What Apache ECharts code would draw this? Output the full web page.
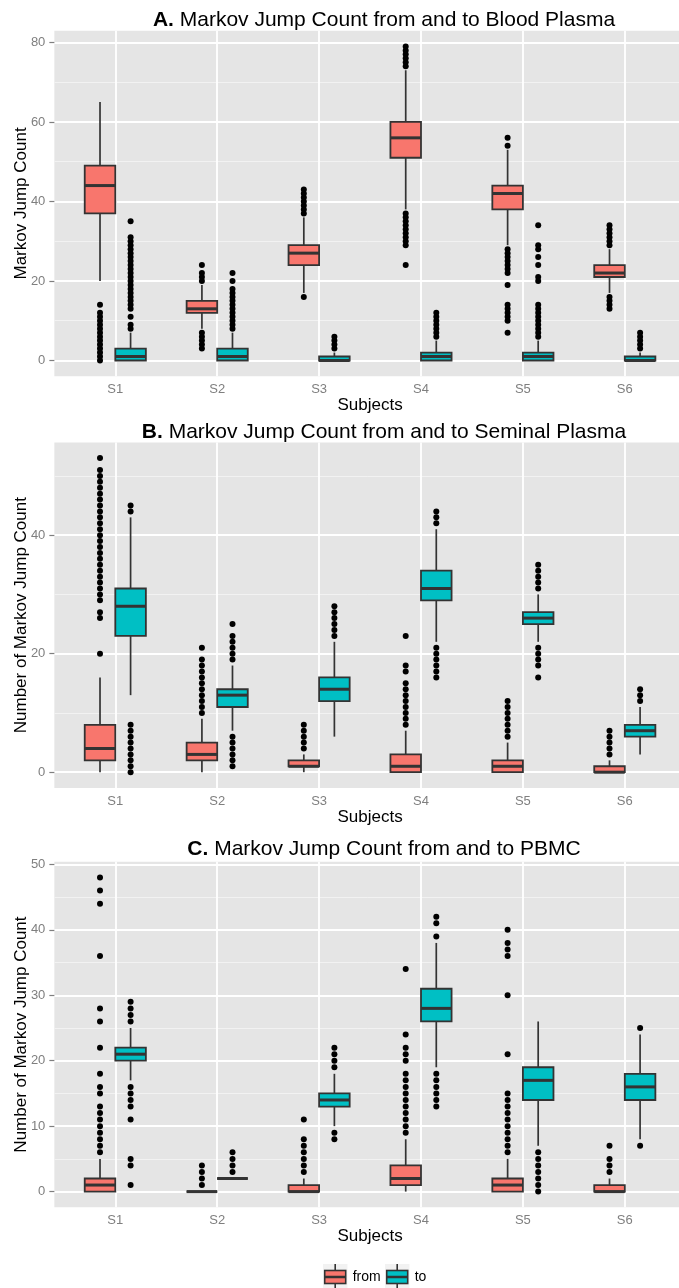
<!DOCTYPE html>
<html>
<head>
<meta charset="utf-8">
<title>Markov Jump Count</title>
<script src="https://cdn.jsdelivr.net/npm/echarts@6/dist/echarts.min.js"></script>
<style>
  html, body { margin: 0; padding: 0; background: #fff; }
  #main { width: 679px; height: 1288px; }
</style>
</head>
<body>
<div id="main"></div>
<script>
  var subjects = ['S1', 'S2', 'S3', 'S4', 'S5', 'S6'];

  // box stats per subject: [lower whisker, Q1, median, Q3, upper whisker]
  var bloodFromBox = [[20, 37, 44, 49, 65], [8, 12, 13, 15, 19], [17, 24, 27, 29, 36],
                      [38, 51, 56, 60, 73], [29, 38, 42, 44, 53], [17, 21, 22, 24, 28]];
  var bloodToBox = [[0, 0, 1, 3, 7], [0, 0, 1, 3, 7], [0, 0, 0, 1, 2],
                    [0, 0, 1, 2, 5], [0, 0, 1, 2, 5], [0, 0, 0, 1, 2]];
  var seminalFromBox = [[0, 2, 4, 8, 16], [0, 2, 3, 5, 9], [0, 1, 1, 2, 3],
                        [0, 0, 1, 3, 7], [0, 0, 1, 2, 5], [0, 0, 0, 1, 2]];
  var seminalToBox = [[13, 23, 28, 31, 43], [7, 11, 13, 14, 18], [6, 12, 14, 16, 22],
                      [22, 29, 31, 34, 41], [22, 25, 26, 27, 30], [3, 6, 7, 8, 11]];
  var pbmcFromBox = [[0, 0, 1, 2, 5], [0, 0, 0, 0, 0], [0, 0, 0, 1, 2],
                     [0, 1, 2, 4, 8], [0, 0, 1, 2, 5], [0, 0, 0, 1, 2]];
  var pbmcToBox = [[17, 20, 21, 22, 25], [2, 2, 2, 2, 2], [10, 13, 14, 15, 18],
                   [19, 26, 28, 31, 38], [7, 14, 17, 19, 26], [8, 14, 16, 18, 24]];

  // outliers per subject
  var bloodFromOut = [
    [0, 1, 2, 3, 4, 5, 6, 7, 8, 9, 10, 11, 12, 14],
    [3, 4, 5, 6, 7, 20, 21, 22, 24],
    [16, 37, 38, 39, 40, 41, 42, 43],
    [24, 29, 30, 31, 32, 33, 34, 35, 36, 37, 74, 75, 76, 77, 78, 79],
    [7, 10, 11, 12, 13, 14, 19, 22, 23, 24, 25, 26, 27, 28, 54, 56],
    [13, 14, 15, 16, 29, 30, 31, 32, 33, 34]
  ];
  var bloodToOut = [
    [8, 9, 11, 13, 14, 15, 16, 17, 18, 19, 20, 21, 22, 23, 24, 25, 26, 27, 28, 29, 30, 31, 35],
    [8, 9, 10, 11, 12, 13, 14, 15, 16, 17, 18, 20, 22],
    [3, 4, 5, 6],
    [6, 7, 8, 9, 10, 11, 12],
    [6, 7, 8, 9, 10, 11, 12, 13, 14, 20, 21, 24, 26, 28, 29, 34],
    [3, 4, 5, 6, 7]
  ];
  var seminalFromOut = [
    [20, 26, 27, 29, 30, 31, 32, 33, 34, 35, 36, 37, 38, 39, 40, 41, 42, 43, 44, 45, 46, 47, 48, 49, 50, 51, 53],
    [10, 11, 12, 13, 14, 15, 16, 17, 18, 19, 21],
    [4, 5, 6, 7, 8],
    [8, 9, 10, 11, 12, 13, 14, 15, 17, 18, 23],
    [6, 7, 8, 9, 10, 11, 12],
    [3, 4, 5, 6, 7]
  ];
  var seminalToOut = [
    [0, 1, 2, 3, 4, 5, 6, 7, 8, 44, 45],
    [1, 2, 3, 4, 5, 6, 19, 20, 21, 22, 23, 25],
    [23, 24, 25, 26, 27, 28],
    [16, 17, 18, 19, 20, 21, 42, 43, 44],
    [16, 18, 19, 20, 21, 31, 32, 33, 34, 35],
    [12, 13, 14]
  ];
  var pbmcFromOut = [
    [6, 7, 8, 9, 10, 11, 12, 13, 15, 16, 18, 22, 26, 28, 36, 44, 46, 48],
    [1, 2, 3, 4],
    [3, 4, 5, 6, 7, 8, 11],
    [9, 10, 11, 12, 13, 14, 15, 16, 17, 18, 20, 21, 22, 24, 34],
    [6, 7, 8, 9, 10, 11, 12, 13, 14, 15, 21, 30, 36, 37, 38, 40],
    [3, 4, 5, 7]
  ];
  var pbmcToOut = [
    [1, 4, 5, 11, 13, 14, 15, 16, 26, 27, 28, 29],
    [3, 4, 5, 6],
    [8, 9, 19, 20, 21, 22],
    [13, 14, 15, 16, 17, 18, 39, 41, 42],
    [0, 1, 2, 3, 4, 5, 6],
    [7, 25]
  ];

  // y ranges (ggplot 5% expansion) and tick labels
  var bloodRange = [-3.95, 82.95];
  var seminalRange = [-2.65, 55.65];
  var pbmcRange = [-2.4, 50.4];
  var bloodTicks = [0, 20, 40, 60, 80];
  var seminalTicks = [0, 20, 40];
  var pbmcTicks = [0, 10, 20, 30, 40, 50];

  var fromColor = '#F8766D';
  var toColor = '#00BFC4';
  var ink = '#333333';
  var axisGrey = '#7F7F7F';
  var font = 'Liberation Sans, Arial, sans-serif';

  var panels = [
    { tag: 'A.', title: ' Markov Jump Count from and to Blood Plasma', yName: 'Markov Jump Count',
      range: bloodRange, ticks: bloodTicks, splitNumber: 5, top: 30.7, titleY: 20.3,
      fromBox: bloodFromBox, toBox: bloodToBox, fromOut: bloodFromOut, toOut: bloodToOut },
    { tag: 'B.', title: ' Markov Jump Count from and to Seminal Plasma', yName: 'Number of Markov Jump Count',
      range: seminalRange, ticks: seminalTicks, splitNumber: 3, top: 442.4, titleY: 432.6,
      fromBox: seminalFromBox, toBox: seminalToBox, fromOut: seminalFromOut, toOut: seminalToOut },
    { tag: 'C.', title: ' Markov Jump Count from and to PBMC', yName: 'Number of Markov Jump Count',
      range: pbmcRange, ticks: pbmcTicks, splitNumber: 5, top: 861.8, titleY: 849.6,
      fromBox: pbmcFromBox, toBox: pbmcToBox, fromOut: pbmcFromOut, toOut: pbmcToOut }
  ];
  var panelHeight = 345.5;

  function boxRenderer(side, fill) {
    return function (params, api) {
      var band = api.size([1, 0])[0];
      var w = band * 0.3;
      var cat = api.value(0);
      var cx = api.coord([cat, 0])[0] + side * w / 2;
      function py(dim) { return api.coord([cat, api.value(dim)])[1]; }
      var lo = py(1), q1 = py(2), md = py(3), q3 = py(4), hi = py(5);
      return {
        type: 'group',
        children: [
          { type: 'line', shape: { x1: cx, y1: hi, x2: cx, y2: q3 }, style: { stroke: ink, lineWidth: 1.7 } },
          { type: 'line', shape: { x1: cx, y1: q1, x2: cx, y2: lo }, style: { stroke: ink, lineWidth: 1.7 } },
          { type: 'rect', shape: { x: cx - w / 2, y: q3, width: w, height: q1 - q3 },
            style: { fill: fill, stroke: ink, lineWidth: 1.8 } },
          { type: 'line', shape: { x1: cx - w / 2, y1: md, x2: cx + w / 2, y2: md }, style: { stroke: ink, lineWidth: 3 } }
        ]
      };
    };
  }

  function outlierPoints(lists) {
    var pts = [];
    lists.forEach(function (vals, i) {
      vals.forEach(function (v) { pts.push([i, v]); });
    });
    return pts;
  }

  function keyIcon(fill) {
    var svg = '<svg xmlns="http://www.w3.org/2000/svg" width="25" height="27" viewBox="0 0 25 27">' +
      '<rect width="25" height="27" fill="#F2F2F2"/>' +
      '<line x1="12.5" y1="0" x2="12.5" y2="27" stroke="#333" stroke-width="1.6"/>' +
      '<rect x="2" y="7" width="21" height="13" fill="' + fill + '" stroke="#333" stroke-width="1.6"/>' +
      '<line x1="2" y1="13.5" x2="23" y2="13.5" stroke="#333" stroke-width="2.6"/></svg>';
    return 'image://data:image/svg+xml;charset=utf-8,' + encodeURIComponent(svg);
  }

  var grids = [], xAxes = [], yAxes = [], series = [], titles = [];

  panels.forEach(function (p, k) {
    var bg = 2 * k, dg = 2 * k + 1;
    // full panel (grey background, y axis, horizontal grid lines)
    grids.push({ left: 54.35, right: -7, top: p.top, height: panelHeight, show: true,
                 backgroundColor: '#E5E5E5', borderWidth: 0, outerBoundsMode: 'none' });
    // data area, categories spaced like ggplot's discrete scale
    grids.push({ left: 64.35, right: 3.25, top: p.top, height: panelHeight, outerBoundsMode: 'none' });

    xAxes.push({ gridIndex: bg, type: 'value', show: false, min: 0, max: 1 });
    xAxes.push({
      gridIndex: dg, type: 'category', data: subjects, boundaryGap: true,
      axisLine: { show: false },
      axisTick: { alignWithLabel: true, length: 5, lineStyle: { color: axisGrey, width: 1.2 } },
      axisLabel: { margin: 7, color: axisGrey, fontSize: 13, fontFamily: font },
      splitLine: { show: true, alignWithLabel: true, lineStyle: { color: '#FFFFFF', width: 1.8 } },
      name: 'Subjects', nameLocation: 'middle', nameGap: 20.5, nameMoveOverlap: false,
      nameTextStyle: { fontSize: 17, color: '#000', fontFamily: font }
    });

    yAxes.push({
      gridIndex: bg, type: 'value', min: p.range[0], max: p.range[1], splitNumber: p.splitNumber,
      axisLine: { show: false },
      axisTick: { length: 5, customValues: p.ticks, lineStyle: { color: axisGrey, width: 1.2 } },
      axisLabel: { margin: 9, customValues: p.ticks, color: axisGrey, fontSize: 13, fontFamily: font },
      splitLine: { show: true, lineStyle: { color: '#FFFFFF', width: 1.8 } },
      minorTick: { show: false, splitNumber: 2 },
      minorSplitLine: { show: true, lineStyle: { color: '#F2F2F2', width: 1 } },
      name: p.yName, nameLocation: 'middle', nameGap: 25, nameMoveOverlap: false,
      nameTextStyle: { fontSize: 17, color: '#000', fontFamily: font }
    });
    yAxes.push({ gridIndex: dg, type: 'value', min: p.range[0], max: p.range[1], show: false });

    [['from', p.fromBox, p.fromOut, fromColor, -1], ['to', p.toBox, p.toOut, toColor, 1]].forEach(function (s) {
      series.push({
        type: 'custom', name: s[0], xAxisIndex: dg, yAxisIndex: dg,
        data: s[1].map(function (b, i) { return [i].concat(b); }),
        encode: { x: 0, y: [1, 2, 3, 4, 5] },
        itemStyle: { color: s[3] },
        renderItem: boxRenderer(s[4], s[3]),
        silent: true, z: 3
      });
      series.push({
        type: 'scatter', name: s[0], xAxisIndex: dg, yAxisIndex: dg,
        data: outlierPoints(s[2]),
        symbol: 'circle', symbolSize: 6, symbolOffset: [s[4] * 15.3, 0],
        itemStyle: { color: '#000000', opacity: 1 },
        silent: true, z: 4
      });
    });

    titles.push({
      text: '{b|' + p.tag + '}' + p.title,
      left: 384, top: p.titleY, textAlign: 'center', textVerticalAlign: 'middle', padding: 0,
      textStyle: { fontSize: 21, fontWeight: 'normal', color: '#000', fontFamily: font,
                   rich: { b: { fontSize: 21, fontWeight: 'bold', color: '#000', fontFamily: font } } }
    });
  });

  var chart = echarts.init(document.getElementById('main'), null, { renderer: 'canvas' });
  chart.setOption({
    animation: false,
    backgroundColor: '#FFFFFF',
    textStyle: { fontFamily: font },
    title: titles,
    legend: {
      data: [{ name: 'from', icon: keyIcon(fromColor) }, { name: 'to', icon: keyIcon(toColor) }],
      left: 322.7, top: 1263.5, padding: 0, itemWidth: 25, itemHeight: 27, itemGap: 4,
      selectedMode: false,
      textStyle: { fontSize: 14, color: '#000', fontFamily: font }
    },
    grid: grids,
    xAxis: xAxes,
    yAxis: yAxes,
    series: series
  });
</script>
</body>
</html>
